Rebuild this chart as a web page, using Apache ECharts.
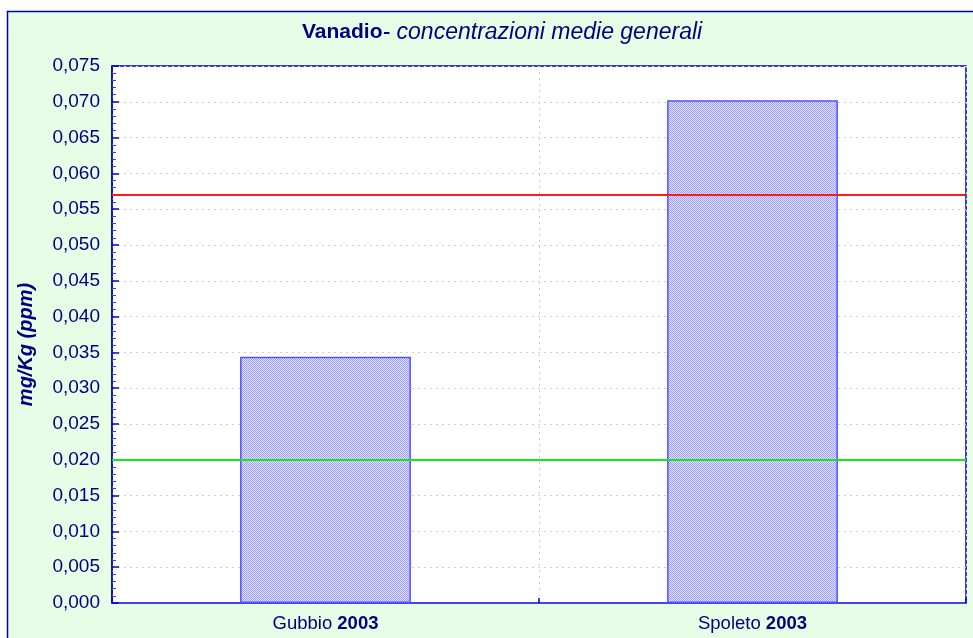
<!DOCTYPE html>
<html>
<head>
<meta charset="utf-8">
<script src="https://cdn.jsdelivr.net/npm/echarts@6/dist/echarts.min.js"></script>
<style>
  html, body { margin: 0; padding: 0; background: #ffffff; }
  #chart { width: 973px; height: 638px; }
</style>
</head>
<body>
<div id="chart"></div>
<script>
// Mean vanadium concentrations by site
const sites = ['Gubbio', 'Spoleto'];
const years = ['2003', '2003'];
const meanValues = [0.0344, 0.0702];
const redLimit = 0.057;
const greenLimit = 0.020;
const yMin = 0, yMax = 0.075, yStep = 0.005;

const NAVY = '#000080';
const AXIS_BLUE = '#0000cc';
const FONT = 'Liberation Sans, Arial';

// Small checker pattern used as the bar fill
function makeHatch() {
  const c = document.createElement('canvas');
  c.width = 2; c.height = 2;
  const g = c.getContext('2d');
  g.fillStyle = '#e6e6ff'; g.fillRect(0, 0, 2, 2);
  g.fillStyle = '#9c9cff';
  g.fillRect(0, 0, 1, 1);
  g.fillRect(1, 1, 1, 1);
  return c;
}

const chart = echarts.init(document.getElementById('chart'), null, { renderer: 'canvas' });

chart.setOption({
  animation: false,
  graphic: [{
    type: 'rect',
    z: -10,
    shape: { x: 7.5, y: 11.5, width: 1100, height: 800 },
    style: { fill: '#e6fde6', stroke: AXIS_BLUE, lineWidth: 1.5 }
  }],
  title: {
    text: '{b|Vanadio}{i|- concentrazioni medie generali}',
    left: 302,
    top: 21,
    padding: 0,
    textStyle: {
      fontWeight: 'normal',
      rich: {
        b: { fontFamily: FONT, fontSize: 21, fontWeight: 'bold', color: NAVY },
        i: { fontFamily: FONT, fontSize: 23, fontWeight: 'normal', fontStyle: 'italic', color: NAVY }
      }
    }
  },
  grid: {
    left: 112, top: 66, right: 7, bottom: 35,
    show: true,
    backgroundColor: '#ffffff',
    borderColor: AXIS_BLUE,
    borderWidth: 1.5
  },
  xAxis: {
    type: 'category',
    data: sites,
    boundaryGap: true,
    axisLine: { lineStyle: { color: '#4848d8', width: 2 } },
    axisTick: { show: true, inside: true, length: 5, lineStyle: { color: AXIS_BLUE, width: 1.5 } },
    splitLine: { show: true, lineStyle: { color: '#d0d0d0', type: [2, 4], width: 1 } },
    axisLabel: {
      margin: 11,
      formatter: function (v, i) { return v + ' {y|' + years[i] + '}'; },
      fontFamily: FONT,
      fontSize: 18.5,
      color: NAVY,
      rich: {
        y: { fontFamily: FONT, fontSize: 18.5, fontWeight: 'bold', color: NAVY }
      }
    }
  },
  yAxis: {
    type: 'value',
    min: yMin, max: yMax, interval: yStep,
    name: 'mg/Kg (ppm)',
    nameLocation: 'middle',
    nameGap: 76,
    nameTextStyle: {
      fontFamily: FONT,
      fontSize: 20,
      fontWeight: 'bold',
      fontStyle: 'italic',
      color: NAVY,
      padding: [0, 0, 0, -20]
    },
    axisLine: { show: true, lineStyle: { color: AXIS_BLUE, width: 1.5 } },
    axisTick: { show: true, inside: true, length: 7, lineStyle: { color: AXIS_BLUE, width: 1.5 } },
    minorTick: { show: true, splitNumber: 5, length: 4, lineStyle: { color: '#4040cc', width: 1 } },
    splitLine: { show: true, lineStyle: { color: '#d0d0d0', type: [2, 4], width: 1 } },
    axisLabel: {
      margin: 12,
      fontFamily: FONT,
      fontSize: 19,
      color: NAVY,
      formatter: function (v) { return v.toFixed(3).replace('.', ','); }
    }
  },
  series: [{
    type: 'bar',
    data: meanValues,
    barWidth: '40%',
    itemStyle: {
      color: { image: makeHatch(), repeat: 'repeat' },
      borderColor: '#5050ff',
      borderWidth: 1.5
    },
    markLine: {
      silent: true,
      symbol: 'none',
      precision: 4,
      label: { show: false },
      data: [
        { yAxis: redLimit, lineStyle: { color: '#ff1a1a', width: 2, type: 'solid' } },
        { yAxis: greenLimit, lineStyle: { color: '#19e619', width: 2, type: 'solid' } }
      ]
    }
  }]
});
</script>
</body>
</html>
